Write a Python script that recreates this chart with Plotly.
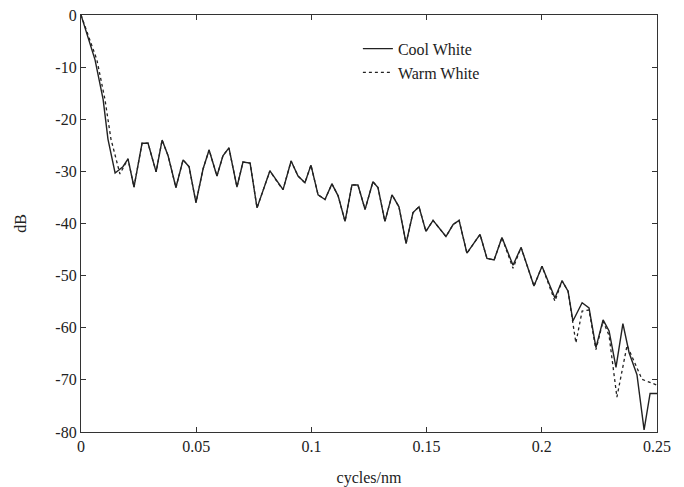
import plotly.graph_objects as go

# ---- data ----
cool_x = [0, 0.0061, 0.0096, 0.0117, 0.0148, 0.0182, 0.0204, 0.0230, 0.0265, 0.0291,
          0.0326, 0.0352, 0.0378, 0.0412, 0.0443, 0.0469, 0.0499, 0.0530, 0.0556, 0.0590,
          0.0616, 0.0642, 0.0677, 0.0703, 0.0734, 0.0764, 0.0820, 0.0851, 0.0877, 0.0912,
          0.0942, 0.0972, 0.0998, 0.1029, 0.1059, 0.1089, 0.1116, 0.1146, 0.1176, 0.1202,
          0.1233, 0.1267, 0.1289, 0.1319, 0.1350, 0.1380, 0.1411, 0.1441, 0.1467, 0.1497,
          0.1528, 0.1584, 0.1615, 0.1641, 0.1675, 0.1732, 0.1762, 0.1793, 0.1827, 0.1875,
          0.1910, 0.1966, 0.2001, 0.2057, 0.2088, 0.2114, 0.2135, 0.2175, 0.2205, 0.2235,
          0.2266, 0.2292, 0.2322, 0.2352, 0.2379, 0.2413, 0.2444, 0.2470, 0.2500]
cool_db = [0, -8.6, -16.2, -23.8, -30.3, -29.1, -27.6, -33.0, -24.6, -24.6,
           -30.1, -24.0, -27.0, -33.1, -27.8, -29.1, -36.0, -29.5, -25.9, -30.9,
           -27.0, -25.5, -33.0, -28.2, -28.4, -37.0, -29.9, -32.0, -33.5, -28.0,
           -30.9, -32.2, -28.8, -34.5, -35.4, -32.4, -34.7, -39.6, -32.6, -32.6,
           -37.3, -32.0, -33.1, -39.6, -34.5, -36.8, -43.8, -37.9, -36.8, -41.5,
           -39.4, -42.5, -40.2, -39.4, -45.7, -42.1, -46.7, -47.0, -42.7, -48.0,
           -44.6, -52.0, -48.2, -54.3, -51.0, -53.0, -58.7, -55.2, -56.2, -63.8,
           -58.5, -60.6, -67.6, -59.2, -64.8, -69.0, -79.6, -72.6, -72.6]

warm_x = [0, 0.0069, 0.0104, 0.0130, 0.0169, 0.0204, 0.0230, 0.0265, 0.0291,
          0.0326, 0.0352, 0.0378, 0.0412, 0.0443, 0.0469, 0.0499, 0.0530, 0.0556, 0.0590,
          0.0616, 0.0642, 0.0677, 0.0703, 0.0734, 0.0764, 0.0820, 0.0851, 0.0877, 0.0912,
          0.0942, 0.0972, 0.0998, 0.1029, 0.1059, 0.1089, 0.1116, 0.1146, 0.1176, 0.1202,
          0.1233, 0.1267, 0.1289, 0.1319, 0.1350, 0.1380, 0.1411, 0.1441, 0.1467, 0.1497,
          0.1528, 0.1584, 0.1615, 0.1641, 0.1675, 0.1732, 0.1762, 0.1793, 0.1827, 0.1875,
          0.1910, 0.1966, 0.2001, 0.2057, 0.2088, 0.2114, 0.2148, 0.2175, 0.2205, 0.2235,
          0.2266, 0.2292, 0.2326, 0.2370, 0.2435, 0.2500]
warm_db = [0, -8.6, -16.2, -23.8, -30.5, -27.6, -33.0, -24.6, -24.6,
           -30.1, -24.0, -27.0, -33.1, -27.8, -29.1, -36.0, -29.5, -25.9, -30.9,
           -27.0, -25.5, -33.0, -28.2, -28.4, -37.0, -29.9, -32.0, -33.5, -28.0,
           -30.9, -32.2, -28.8, -34.5, -35.4, -32.4, -34.7, -39.6, -32.6, -32.6,
           -37.3, -32.0, -33.1, -39.6, -34.5, -36.8, -43.8, -37.9, -36.8, -41.5,
           -39.4, -42.5, -40.2, -39.4, -45.7, -42.1, -46.7, -47.0, -42.7, -48.6,
           -44.6, -52.0, -48.2, -54.9, -51.0, -53.0, -62.9, -56.8, -56.6, -64.2,
           -58.7, -61.5, -73.3, -63.4, -69.9, -71.0]

x_tickvals = [0, 0.05, 0.1, 0.15, 0.2, 0.25]
x_ticktext = ["0", "0.05", "0.1", "0.15", "0.2", "0.25"]
y_tickvals = [0, -10, -20, -30, -40, -50, -60, -70, -80]
y_ticktext = ["0", "-10", "-20", "-30", "-40", "-50", "-60", "-70", "-80"]

FONT = "Liberation Serif"
INK = "#222222"
FS = 16

fig = go.Figure()
fig.add_trace(go.Scatter(x=cool_x, y=cool_db, mode="lines", name="Cool White",
                         line=dict(color=INK, width=1.4)))
fig.add_trace(go.Scatter(x=warm_x, y=warm_db, mode="lines", name="Warm White",
                         line=dict(color=INK, width=1.3, dash="3px,3px")))

axis_common = dict(showline=True, linecolor="#333333", linewidth=1.2, mirror="ticks",
                   ticks="inside", ticklen=5, tickcolor="#333333", showgrid=False,
                   zeroline=False, automargin=False, ticklabeloverflow="allow",
                   tickfont=dict(family=FONT, size=FS, color=INK))

fig.update_layout(
    width=684, height=487,
    margin=dict(l=81, r=27, t=15, b=55),
    paper_bgcolor="white", plot_bgcolor="white",
    font=dict(family=FONT, size=FS, color=INK),
    hovermode=False,
    xaxis=dict(range=[0, 0.25], tickvals=x_tickvals, ticktext=x_ticktext,
               title=dict(text="cycles/nm", standoff=22, font=dict(family=FONT, size=FS)),
               **axis_common),
    yaxis=dict(range=[-80, 0], tickvals=y_tickvals, ticktext=y_ticktext,
               title=dict(text="dB", standoff=24, font=dict(family=FONT, size=FS)),
               **axis_common),
    legend=dict(x=0.4807, y=0.96, xanchor="left", yanchor="top",
                bgcolor="rgba(0,0,0,0)", font=dict(family=FONT, size=FS, color=INK)),
)

# remove the browser's default 8px body margin so the figure fills the window
fig.write_html("out.html", config={"displayModeBar": False},
               post_script="document.body.style.margin='0px';")
